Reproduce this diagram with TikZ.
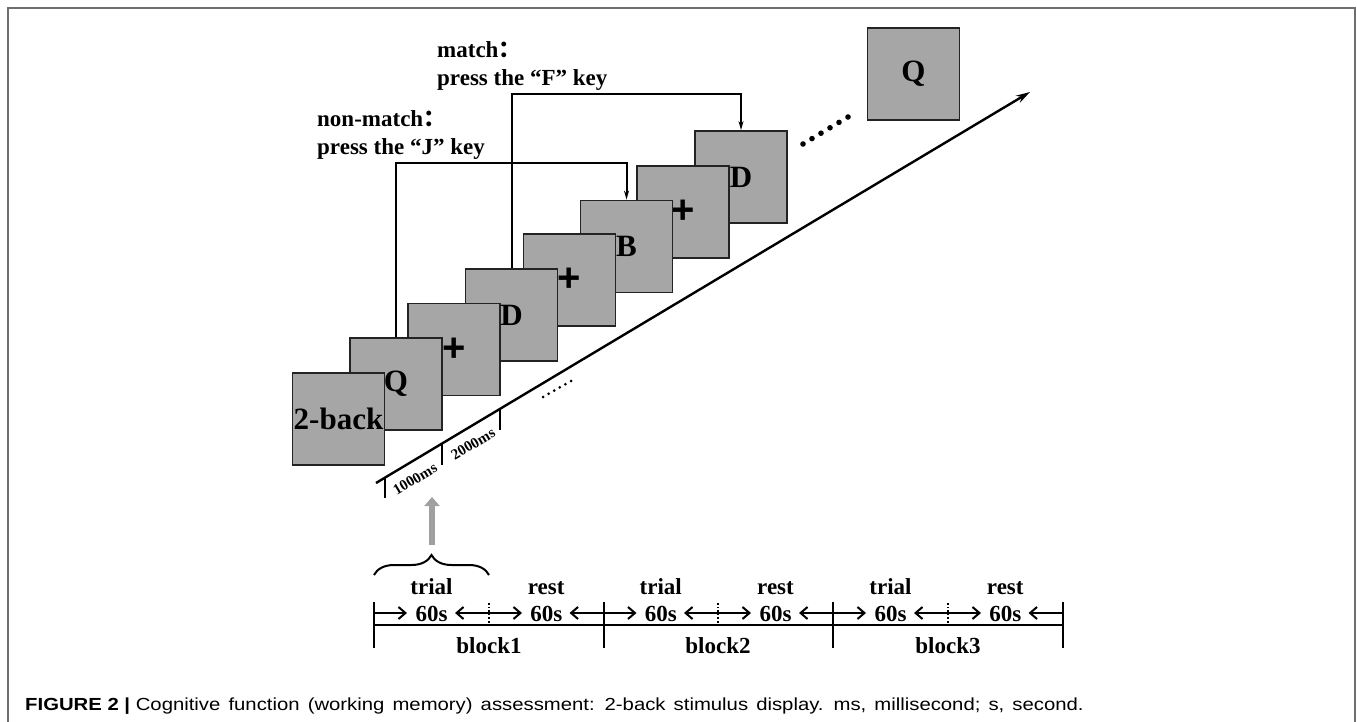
\documentclass[tikz,border=0pt]{standalone}
\usepackage{fontspec}
\setmainfont{Liberation Serif}
\newfontfamily\capfont{Liberation Sans}
\newfontfamily\cjk{Noto Sans CJK SC}
\usetikzlibrary{arrows.meta,decorations.pathreplacing,calc}
\definecolor{boxgray}{RGB}{166,166,166}
\definecolor{edgegray}{RGB}{35,35,35}
\definecolor{framegray}{RGB}{110,110,110}
\definecolor{arrgray}{RGB}{160,160,160}
\begin{document}
\begin{tikzpicture}[x=1pt,y=-1pt,
  stim/.style={draw=edgegray, line width=1.8pt, fill=boxgray, minimum width=92pt, minimum height=92pt, inner sep=0pt, font=\fontsize{31}{32}\selectfont\bfseries},
  plus/.style={font=\capfont\fontsize{40}{40}\selectfont\bfseries},
  conn/.style={line width=2pt, -{Stealth[length=9pt,width=5pt]}},
  lbl/.style={font=\fontsize{23}{28}\selectfont\bfseries, inner sep=0pt},
  tl/.style={line width=2pt},
  tlarrow/.style={line width=2pt, -{Straight Barb[length=7pt,width=12pt]}},
  tick/.style={line width=2pt},
  ms/.style={font=\fontsize{15}{17}\selectfont\bfseries, inner sep=0pt, rotate=30.9},
  dot/.style={fill=black, draw=none}
]
\useasboundingbox (0,0) rectangle (1357,722);
% outer frame
\draw[framegray, line width=2pt] (8,722) -- (8,8) -- (1355,8) -- (1355,722);

% stimulus boxes, back to front
\node[stim] (bQ) at (913.5,74) {Q};
\node[stim] (b8) at (741,177) {D};
\node[stim, plus] (b7) at (683,212) {+};
\node[stim] (b6) at (626.5,246.5) {B};
\node[stim, plus] (b5) at (569.5,280) {+};
\node[stim] (b4) at (511.5,315) {D};
\node[stim, plus] (b3) at (454,349.5) {+};
\node[stim] (b2) at (396,384) {Q};
\node[stim] (b1) at (338.5,419) {2-back};

% connectors
\draw[conn] (b4.north) -- (b4.north |- 0,94) -| (b8.north);
\draw[conn] (b2.north) -- (b2.north |- 0,163) -| (b6.north);

% labels
\node[lbl, anchor=base west] (m1) at (437,58) {match{\cjk ：}};
\node[lbl, anchor=base west] (m2) at (437,86) {press the “F” key};
\node[lbl, anchor=base west] (n1) at (317,127) {non-match{\cjk ：}};
\node[lbl, anchor=base west] (n2) at (317,155) {press the “J” key};

% time axis
\coordinate (a0) at (376,483);
\coordinate (a1) at (1030,92);
\draw[line width=2.4pt, -{Stealth[length=14pt,width=8pt]}] (a0) -- (a1);
\coordinate (t1) at (384.5,478);
\coordinate (t2) at (442,443.5);
\coordinate (t3) at (500,409);
\draw[tick] (t1) -- ++(0,20);
\draw[tick] (t2) -- ++(0,21);
\draw[tick] (t3) -- ++(0,21);
\node[ms] (ms1) at (415,479) {1000ms};
\node[ms] (ms2) at (473,444) {2000ms};
\foreach \i in {0,...,5} {\fill[dot] ($(543,397)!\i/5!(571,381)$) circle (1.5);}
\foreach \i in {0,...,5} {\fill[dot] ($(803,144)!\i/5!(848,117)$) circle (2.8);}

% grey arrow
\coordinate (g0) at (432,545);
\coordinate (g1) at (432,497);
\draw[arrgray, line width=6pt, -{Triangle[length=9pt,width=15pt]}] (g0) -- (g1);

% brace
\coordinate (br0) at (374,575);
\coordinate (br1) at (489,575);
\draw[line width=2pt, decorate, decoration={brace, amplitude=20pt}] (br0) -- (br1);

% bottom timeline
\coordinate (L0) at (374,625);
\coordinate (L1) at (1063,625);
\draw[tl] (L0) -- (L1);
\foreach \x in {374,603.5,833,1062.5} {\draw[tick] (\x,602) -- (\x,648);}
\foreach \x in {489,718,948} {\draw[line width=1.6pt, dotted] (\x,603) -- (\x,625);}
\foreach \l/\r/\w/\n in {374/489/trial/tr1, 489/603.5/rest/re1, 603.5/718/trial/tr2, 718/833/rest/re2, 833/948/trial/tr3, 948/1062.5/rest/re3} {
  \draw[tlarrow] (\l,613) -- ++(33,0);
  \draw[tlarrow] (\r,613) -- ++(-34,0);
  \node[lbl, anchor=base] (\n) at ({(\l+\r)/2},594) {\w};
  \node[lbl, anchor=base] (\n s) at ({(\l+\r)/2},621) {60s};
}
\node[lbl, anchor=base] (bk1) at (489,653) {block1};
\node[lbl, anchor=base] (bk2) at (718,653) {block2};
\node[lbl, anchor=base] (bk3) at (948,653) {block3};

% caption
\node[anchor=base west, inner sep=0pt, xscale=1.16, font=\capfont\fontsize{17.5}{20}\selectfont] (cap) at (25,710) {\textbf{FIGURE 2 |} {\spaceskip=7pt plus 1pt Cognitive function (working memory) assessment: 2-back stimulus display. ms, millisecond; s, second.}};
\end{tikzpicture}
\end{document}
